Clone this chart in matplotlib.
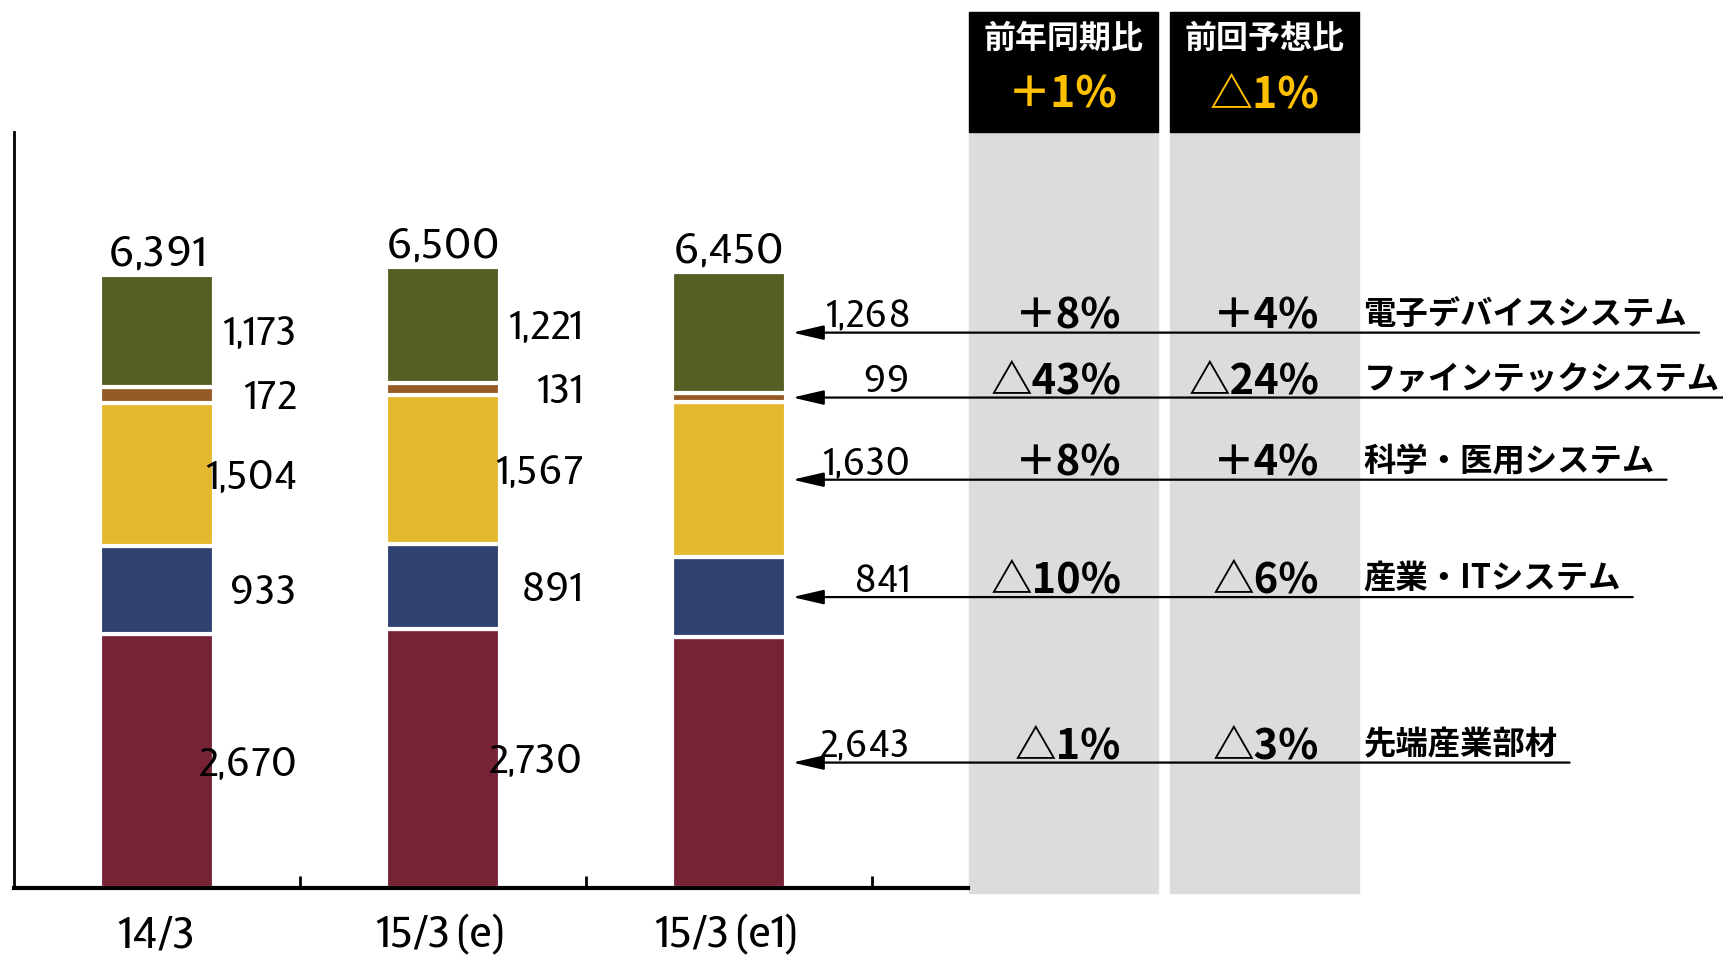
import numpy as np
import matplotlib
matplotlib.use('Agg')
import matplotlib.pyplot as plt
from matplotlib import font_manager
from matplotlib.font_manager import FontProperties
from matplotlib.textpath import TextPath
from matplotlib.patches import Rectangle

# data (units as shown)
categories = ['14/3', '15/3(e)', '15/3(e1)']
segment_names = ['先端産業部材', '産業・ITシステム', '科学・医用システム',
                 'ファインテックシステム', '電子デバイスシステム']
sentan = [2670, 2730, 2643]
sangyo_it = [933, 891, 841]
kagaku = [1504, 1567, 1630]
finetech = [172, 131, 99]
denshi = [1173, 1221, 1268]
totals = [6391, 6500, 6450]
yoy = ['△1%', '△10%', '＋8%', '△43%', '＋8%']
vs_prev = ['△3%', '△6%', '＋4%', '△24%', '＋4%']
header_titles = ['前年同期比', '前回予想比']
header_values = ['＋1%', '△1%']
colors = ['#782236', '#2E4170', '#E3B82F', '#965A26', '#575E24']

DPI = 100


# pick the installed sans font whose numbers are closest to the narrow
# figures in the reference ("6,391" about 3x as wide as a digit is tall)
def digit_metrics(fname):
    fp = FontProperties(fname=fname)
    w = TextPath((0, 0), '6,391', size=100, prop=fp).get_extents().width
    h = TextPath((0, 0), '0', size=100, prop=fp).get_extents().height
    return w / h, h / 100


best = None
for f in font_manager.fontManager.ttflist:
    nm = f.name.lower()
    if f.style != 'normal' or f.weight not in (400, 'normal', 'regular'):
        continue
    if not any(k in nm for k in ('sans', 'roboto', 'lato', 'inter')):
        continue
    if 'mono' in nm or 'cjk' in nm:
        continue
    try:
        ratio, h_em = digit_metrics(f.fname)
    except Exception:
        continue
    score = abs(ratio - 3.0)
    if best is None or score < best[0]:
        best = (score, f.fname, h_em)

NUM_FILE, NUM_H = best[1], best[2]


def num_font(px):
    # font properties giving digits about px pixels tall
    return FontProperties(fname=NUM_FILE, size=px / NUM_H / (DPI / 72))


JP = ['Noto Sans CJK JP', 'DejaVu Sans']

series = [sentan, sangyo_it, kagaku, finetech, denshi]

fig = plt.figure(figsize=(17.24, 9.64), dpi=DPI)
ax = fig.add_axes([0.0083, 0.0787, 0.5530, 0.7845])
ax.set_xlim(-0.5, 2.835)
ax.set_ylim(0, 7960)

x = np.arange(len(categories))
bw = 0.4
bottom = np.zeros(len(categories))
row_y = []
for vals, c in zip(series, colors):
    vals = np.array(vals)
    ax.bar(x, vals, width=bw, bottom=bottom, color=c, edgecolor='white', linewidth=3, zorder=2)
    mid = bottom + vals / 2
    for i in range(2):
        ax.annotate(f'{vals[i]:,}', xy=(i + 0.49, mid[i]), xytext=(0, -3),
                    textcoords='offset points', ha='right', va='center',
                    fontproperties=num_font(29))
    row_y.append(mid[2])
    bottom += vals

# totals above bars
for i, t in enumerate(totals):
    ax.annotate(f'{t:,}', xy=(i, bottom[i]), xytext=(0, 7), textcoords='offset points',
                ha='center', va='baseline', fontproperties=num_font(31))

# axes styling
for s in ['top', 'right']:
    ax.spines[s].set_visible(False)
ax.spines['left'].set_linewidth(2)
ax.spines['bottom'].set_linewidth(3)
ax.set_yticks([])
ax.set_xticks(x)
ax.set_xticklabels(categories, fontproperties=num_font(32))
ax.tick_params(axis='x', which='major', length=0, pad=19)
ax.set_xticks([0.5, 1.5, 2.5], minor=True)
ax.tick_params(axis='x', which='minor', direction='in', length=9, width=2)

# comparison table columns
col_x = [(2.838, 3.500), (3.542, 4.204)]
head_top = 9222
for (x0, x1), title, val in zip(col_x, header_titles, header_values):
    ax.add_patch(Rectangle((x0, -46), x1 - x0, 7960 + 46, color='#DCDCDC',
                           clip_on=False, zorder=0.5))
    ax.add_patch(Rectangle((x0, 7960), x1 - x0, head_top - 7960, color='black',
                           clip_on=False, zorder=0.5))
    xc = (x0 + x1) / 2
    ax.text(xc, 8935, title, ha='center', va='center', color='white', fontsize=23,
            fontweight='bold', family=JP, clip_on=False)
    ax.text(xc, 8356, val, ha='center', va='center', color='#FFC000', fontsize=31,
            fontweight='bold', family=JP, clip_on=False)

# rows for the latest bar: value, arrows, percentages, segment names
name_texts = []
for k, y in enumerate(row_y):
    v = series[k][2]
    ax.annotate(f'{v:,}', xy=(2.635, y), xytext=(0, 4), textcoords='offset points',
                ha='right', va='baseline', fontproperties=num_font(27), annotation_clip=False)
    ax.annotate(yoy[k], xy=(3.373, y), xytext=(0, 3), textcoords='offset points',
                ha='right', va='baseline', fontsize=30, fontweight='bold', family=JP,
                annotation_clip=False)
    ax.annotate(vs_prev[k], xy=(4.065, y), xytext=(0, 3), textcoords='offset points',
                ha='right', va='baseline', fontsize=30, fontweight='bold', family=JP,
                annotation_clip=False)
    t = ax.annotate(segment_names[k], xy=(4.219, y), xytext=(0, 6), textcoords='offset points',
                    ha='left', va='baseline', fontsize=23.3, fontweight='bold', family=JP,
                    annotation_clip=False)
    name_texts.append(t)

fig.canvas.draw()
renderer = fig.canvas.get_renderer()
for t, y in zip(name_texts, row_y):
    bb = t.get_window_extent(renderer)
    x_end = ax.transData.inverted().transform((bb.x1 + 12, 0))[0]
    ax.annotate('', xy=(2.222, y), xytext=(x_end, y),
                arrowprops=dict(arrowstyle='-|>,head_length=0.95,head_width=0.22',
                                color='black', lw=1.6, shrinkA=0, shrinkB=0,
                                mutation_scale=20),
                annotation_clip=False, zorder=3)

fig.savefig('out.png', dpi=DPI)
